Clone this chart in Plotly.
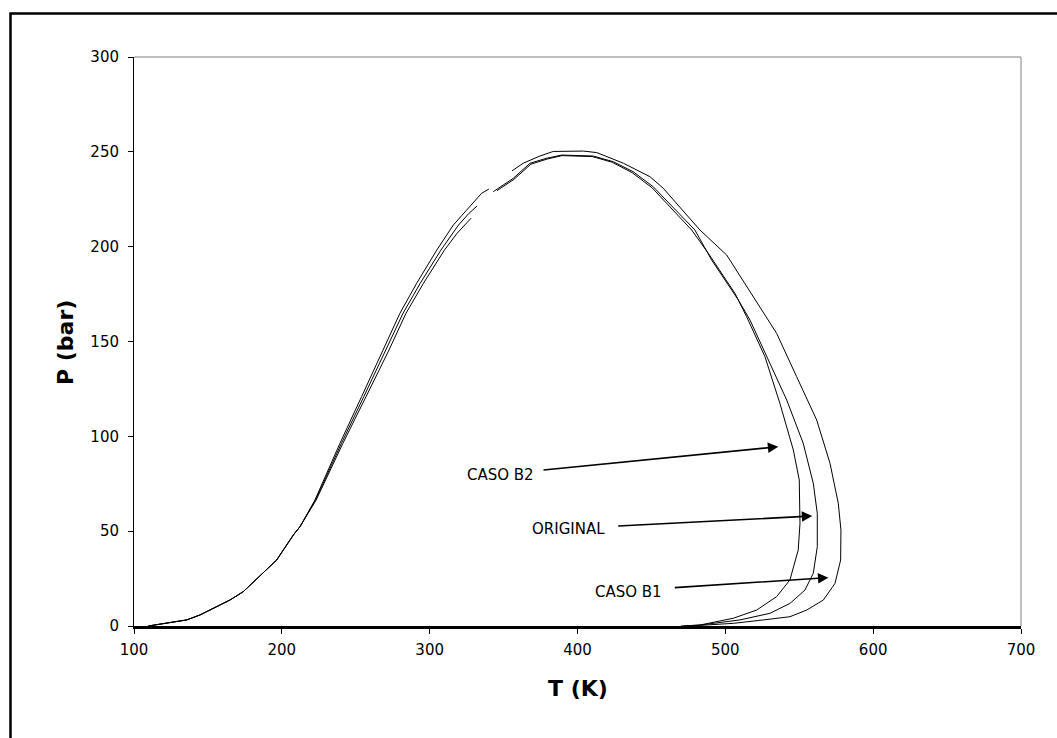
import plotly.graph_objects as go

# ---- data ----
# CASO B1 (outermost envelope)
b1_left_T = [109.7, 135.6, 144.6, 164.9, 173.9, 189.8, 196.5, 207.8, 212.3, 222.4, 239.3, 254.0, 268.6, 279.9, 291.2, 304.8, 316.0, 325.0, 335.1, 340.1]
b1_left_P = [0.0, 3.2, 5.8, 13.7, 18.1, 29.5, 34.8, 48.0, 52.4, 66.4, 96.3, 121.0, 145.5, 164.9, 180.7, 198.2, 211.4, 219.3, 228.1, 230.4]
b1_right_T = [355.7, 363.3, 374.6, 383.6, 404.0, 413.0, 431.0, 449.0, 458.0, 482.8, 500.9, 523.4, 534.7, 548.2, 561.8, 570.8, 576.4, 578.2, 578.0, 574.2, 566.3, 555.0, 543.7, 525.7, 505.4, 476.0]
b1_right_P = [240.0, 244.0, 247.8, 250.2, 250.4, 249.6, 244.0, 236.9, 230.8, 208.8, 195.6, 168.4, 154.3, 131.5, 108.6, 85.8, 64.7, 50.6, 34.8, 22.5, 13.7, 8.4, 4.9, 3.2, 1.4, 0.0]

# ORIGINAL (middle)
orig_left_T = [109.7, 135.6, 144.6, 164.9, 173.9, 189.8, 196.5, 207.8, 212.3, 222.8, 240.3, 255.5, 270.5, 282.0, 293.6, 307.6, 319.5, 326.5, 332.0]
orig_left_P = [0.0, 3.2, 5.8, 13.7, 18.1, 29.5, 34.8, 48.0, 52.4, 66.4, 96.3, 121.0, 145.5, 164.9, 180.7, 198.2, 211.4, 217.5, 221.4]
orig_right_T = [343.0, 356.5, 367.9, 379.1, 389.3, 410.6, 424.2, 437.7, 451.2, 479.4, 490.7, 508.8, 516.7, 530.2, 541.5, 552.7, 559.5, 562.2, 562.2, 559.5, 553.9, 543.7, 530.2, 509.9, 482.8, 472.0]
orig_right_P = [229.0, 236.0, 244.0, 246.6, 248.3, 247.8, 244.8, 239.5, 231.6, 208.8, 193.0, 171.9, 161.3, 138.5, 119.2, 96.3, 75.2, 59.4, 41.8, 27.8, 19.0, 11.9, 6.7, 3.2, 0.5, 0.0]

# CASO B2 (innermost)
b2_left_T = [109.7, 135.6, 144.6, 164.9, 173.9, 189.8, 196.5, 207.8, 212.3, 223.2, 241.3, 257.0, 272.5, 284.0, 295.8, 310.0, 318.5, 328.0]
b2_left_P = [0.0, 3.2, 5.8, 13.7, 18.1, 29.5, 34.8, 48.0, 52.4, 66.4, 96.3, 121.0, 145.5, 164.9, 180.7, 198.2, 207.0, 215.0]
b2_right_T = [345.5, 357.0, 368.5, 379.5, 389.5, 410.0, 423.5, 437.0, 450.5, 477.2, 488.5, 506.5, 514.4, 526.8, 536.9, 546.0, 550.0, 550.5, 549.3, 543.7, 534.7, 521.2, 505.4, 482.8, 470.0]
b2_right_P = [229.5, 235.5, 243.5, 246.2, 248.0, 247.5, 244.5, 239.0, 231.0, 208.8, 196.5, 175.4, 163.1, 142.0, 117.4, 92.8, 77.0, 54.1, 40.1, 24.3, 15.5, 8.4, 4.1, 0.5, 0.0]

labels = ["CASO B2", "ORIGINAL", "CASO B1"]
label_T = [347.6, 393.6, 434.5]
label_P = [79.6, 51.1, 17.9]
arrow_tail_T = [376.0, 426.5, 464.8]
arrow_tail_P = [82.2, 52.7, 20.2]
arrow_tip_T = [535.8, 558.8, 569.7]
arrow_tip_P = [94.5, 58.0, 25.5]

x_ticks = [100, 200, 300, 400, 500, 600, 700]
y_ticks = [0, 50, 100, 150, 200, 250, 300]

FONT = "DejaVu Sans"

W, H = 1057, 738
L, R, T, B = 134, 36, 57, 112
pw, ph = W - L - R, H - T - B


def px(x):
    return (x - L) / pw


def py(y):
    return (H - B - y) / ph


fig = go.Figure()
series = [
    ("CASO B1", b1_left_T, b1_left_P, b1_right_T, b1_right_P),
    ("ORIGINAL", orig_left_T, orig_left_P, orig_right_T, orig_right_P),
    ("CASO B2", b2_left_T, b2_left_P, b2_right_T, b2_right_P),
]
for name, lt, lp, rt, rp in series:
    fig.add_trace(go.Scatter(
        x=lt + [None] + rt, y=lp + [None] + rp, mode="lines", name=name,
        line=dict(color="black", width=1), connectgaps=False, showlegend=False))

annotations = []
for i in range(3):
    annotations.append(dict(
        x=arrow_tip_T[i], y=arrow_tip_P[i], ax=arrow_tail_T[i], ay=arrow_tail_P[i],
        xref="x", yref="y", axref="x", ayref="y", text="", showarrow=True,
        arrowhead=2, arrowsize=1.3, arrowwidth=1.6, arrowcolor="black"))
    annotations.append(dict(
        x=label_T[i], y=label_P[i], xref="x", yref="y", text=labels[i], showarrow=False,
        xanchor="center", yanchor="middle", font=dict(family=FONT, size=15, color="black")))

annotations.append(dict(x=0.5, y=py(688.8), xref="paper", yref="paper", text="<b>T (K)</b>",
                        xanchor="center", yanchor="middle", showarrow=False,
                        font=dict(family=FONT, size=22, color="black")))
annotations.append(dict(x=px(66), y=py(343), xref="paper", yref="paper", text="<b>P (bar)</b>",
                        xanchor="center", yanchor="middle", textangle=-90, showarrow=False,
                        font=dict(family=FONT, size=22, color="black")))

shapes = [
    dict(type="line", xref="paper", yref="paper", x0=0, x1=1, y0=1, y1=1, line=dict(color="#808080", width=1)),
    dict(type="line", xref="paper", yref="paper", x0=1, x1=1, y0=0, y1=1, line=dict(color="#808080", width=1)),
    dict(type="rect", xref="paper", yref="paper", x0=px(10.5), x1=px(1075), y0=py(760), y1=py(13.5),
         line=dict(color="black", width=2.5)),
]

fig.update_layout(
    width=W, height=H, margin=dict(l=L, r=R, t=T, b=B, autoexpand=False),
    paper_bgcolor="white", plot_bgcolor="white",
    annotations=annotations, shapes=shapes,
    font=dict(family=FONT, size=15, color="black"),
    xaxis=dict(range=[100, 700], tickvals=x_ticks, showgrid=False, zeroline=False,
               showline=True, linecolor="black", linewidth=3, ticks="outside", ticklen=5,
               tickcolor="black", tickwidth=1, ticklabelstandoff=3,
               tickfont=dict(family=FONT, size=15, color="black")),
    yaxis=dict(range=[0, 300], tickvals=y_ticks, showgrid=False, zeroline=False,
               showline=True, linecolor="black", linewidth=1, ticks="outside", ticklen=5,
               tickcolor="black", tickwidth=1, ticklabelstandoff=6,
               tickfont=dict(family=FONT, size=15, color="black")),
)

fig.write_html("out.html")
